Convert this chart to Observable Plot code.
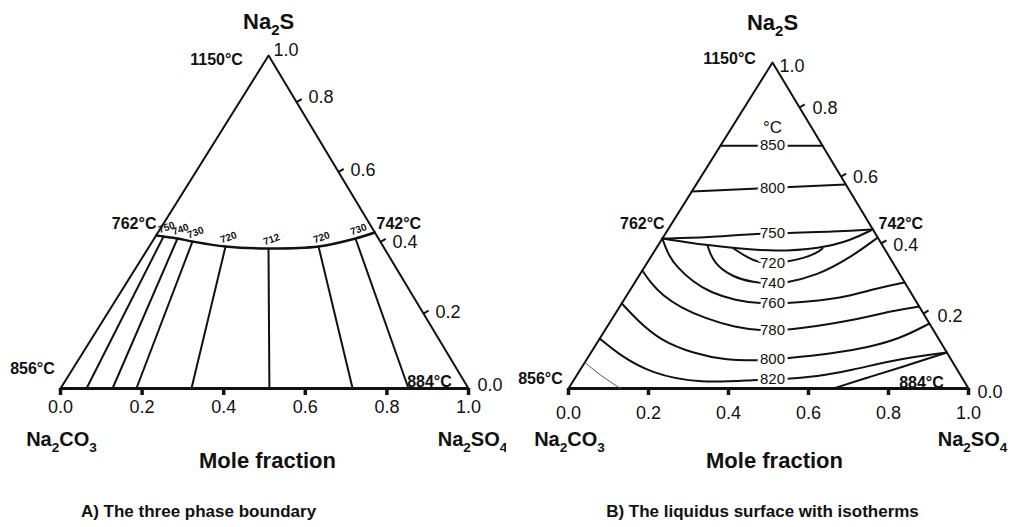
<!DOCTYPE html>
<html><head><meta charset="utf-8">
<script src="https://cdn.jsdelivr.net/npm/d3@7"></script>
<script src="https://cdn.jsdelivr.net/npm/@observablehq/plot@0.6"></script>
<style>
body{margin:0;background:#fff;}
#wrap{display:flex;width:1012px;height:527px;overflow:hidden;}
#wrap svg{overflow:visible;}
</style></head><body><div id="wrap"></div>
<script>
// ---------------- DATA (compositions as [Na2SO4 fraction, Na2S fraction]) ----------------
const baseTicks = [0, 0.2, 0.4, 0.6, 0.8, 1.0];
const edgeTickLabels = ["0.0", "0.2", "0.4", "0.6", "0.8", "1.0"];
const edgeTickNa2S_A = [0, 0.225, 0.44, 0.65, 0.86, 1.0];
const edgeTickNa2S_B = [0, 0.23, 0.445, 0.65, 0.862, 1.0];
const components = ["Na2CO3", "Na2S", "Na2SO4"];
const cornerComp = [[0, 0], [0, 1], [1, 0]];
const meltingLabels = ["856°C", "1150°C", "884°C"];
const eutecticLabels = ["762°C", "742°C"];
const eutecticA = [[0, 0.4595], [0.5315, 0.4685]];
const eutecticB = [[0, 0.46], [0.512, 0.488]];
const captions = ["A) The three phase boundary", "B) The liquidus surface with isotherms"];

// Panel A: tie lines from the three-phase boundary down to the base
const tieTempsA = [750, 740, 730, 720, 712, 720, 730];
const tieTopSO4A = [0.0197, 0.057, 0.0984, 0.187, 0.2954, 0.415, 0.4932];
const tieTopSA = [0.4565, 0.4505, 0.4414, 0.4264, 0.4204, 0.4264, 0.4505];
const tieBaseSO4A = [0.0637, 0.1275, 0.186, 0.321, 0.512, 0.716, 0.853];

// Panel B: liquidus isotherms
const isoTempsB = [850, 800, 750, 720, 740, 760, 780, 800, 820];
const isoPointsB = [
  [[0, 0.745], [0.255, 0.745]],
  [[0, 0.604], [0.374, 0.626]],
  [[0, 0.46], [0.1114, 0.463], [0.2325, 0.4755], [0.4344, 0.4816], [0.512, 0.488]],
  [[0.1935, 0.4294], [0.2426, 0.4018], [0.2779, 0.3865], [0.3145, 0.3834], [0.3379, 0.3865], [0.3841, 0.3988], [0.4097, 0.4172], [0.416, 0.4294]],
  [[0.1238, 0.4387], [0.167, 0.3834], [0.2388, 0.3405], [0.2966, 0.3252], [0.3457, 0.3221], [0.3707, 0.3221], [0.4457, 0.3466], [0.5001, 0.4018], [0.537, 0.463]],
  [[0, 0.46], [0.0419, 0.408], [0.0832, 0.3712], [0.1426, 0.3282], [0.2048, 0.2945], [0.2798, 0.27], [0.347, 0.2607], [0.4095, 0.2607], [0.4923, 0.27], [0.5452, 0.2791], [0.622, 0.3098], [0.6748, 0.3252]],
  [[0, 0.362], [0.0391, 0.3252], [0.0895, 0.2853], [0.1533, 0.2485], [0.233, 0.2147], [0.3221, 0.1871], [0.3893, 0.1779], [0.4518, 0.1779], [0.5842, 0.2025], [0.6905, 0.2393], [0.7485, 0.2515]],
  [[0, 0.261], [0.0661, 0.2086], [0.1549, 0.1472], [0.2577, 0.1074], [0.3537, 0.0859], [0.4287, 0.0859], [0.4956, 0.092], [0.6077, 0.1074], [0.6833, 0.1258], [0.7518, 0.1534], [0.8006, 0.1994]],
  [[0, 0.153], [0.0677, 0.1074], [0.1815, 0.046], [0.3222, 0.0153], [0.4584, 0.0276], [0.5209, 0.0276], [0.6037, 0.0368], [0.6768, 0.0552], [0.7831, 0.092], [0.8896, 0.1104]]
];
const boundaryB = [[0, 0.46], [0.1238, 0.4387], [0.211, 0.4294], [0.2982, 0.4202], [0.411, 0.4294], [0.4735, 0.454], [0.512, 0.488]];
const unlabeledB = [
  [[0.6625, 0], [0.7303, 0.0337], [0.7972, 0.0644], [0.8896, 0.1104]],
  [[0, 0.08], [0.0597, 0.0399], [0.13, 0]]
];

// ---------------- DRAWING ----------------
const FN = "'Liberation Sans Narrow','Arial Narrow','Liberation Sans',Arial,sans-serif";
const FB = "'Liberation Sans',Arial,sans-serif";
const K = 0.51; // horizontal position of the Na2S apex on the base scale
const X = (c, s) => c + K * s;

function panel(o) {
  const W = 506, H = 527;
  const px = o.right - o.left, py = o.base - o.top;
  const L = Math.hypot((1 - K) * px, py);
  const stubX = 6 * py / L / px, stubY = 6 * (1 - K) * px / L / py;
  const edge = o.edgeS.map((s, i) => ({s, label: edgeTickLabels[i], x: 1 - (1 - K) * s, i}));
  const marks = [];
  marks.push(Plot.line([{x: 0, y: 0}, {x: K, y: 1}, {x: 1, y: 0}], {x: "x", y: "y", stroke: "#111", strokeWidth: 2}));
  marks.push(Plot.ruleY([0], {x1: 0, x2: 1, stroke: "#111", strokeWidth: 3}));
  marks.push(Plot.ruleX(baseTicks, {x: d => d, y1: 0, y2: -7 / py, stroke: "#111", strokeWidth: 3.5}));
  marks.push(Plot.text(baseTicks, {x: d => d, y: 0, dy: o.baseLabelDy, text: d => d.toFixed(1), fontSize: 18, fontFamily: FN, fill: "#111"}));
  marks.push(Plot.link(edge.filter(d => d.s > 0 && d.s < 1), {x1: "x", y1: "s", x2: d => d.x + stubX, y2: d => d.s + stubY, stroke: "#111", strokeWidth: 2}));
  edge.forEach(d => {
    const off = o.edgeOff[d.i];
    marks.push(Plot.text([d], {x: "x", y: "s", text: "label", dx: off[0], dy: off[1], textAnchor: "start", fontSize: 18, fontFamily: FN, fill: "#111"}));
  });
  cornerComp.forEach(([c, s], i) => {
    const p = {x: X(c, s), y: s};
    if (i === 1) marks.push(Plot.text([p], {x: "x", y: "y", text: () => components[i], dy: o.na2sDy, fontSize: 22, fontWeight: "bold", fontFamily: FB, fill: "#111"}));
    else marks.push(Plot.text([p], {x: "x", y: "y", text: () => components[i], dx: i === 0 ? 1 : 4, dy: o.compDy, fontSize: 20, fontWeight: "bold", fontFamily: FB, fill: "#111"}));
    marks.push(Plot.text([p], {x: "x", y: "y", text: () => meltingLabels[i], dx: o.melt[i][0], dy: o.melt[i][1], fontSize: 16, fontWeight: "bold", fontFamily: FN, fill: "#111"}));
  });
  o.eut.forEach(([c, s], i) => {
    marks.push(Plot.text([{x: X(c, s), y: s}], {x: "x", y: "y", text: () => eutecticLabels[i], dx: o.eutOff[i][0], dy: o.eutOff[i][1], fontSize: 16, fontWeight: "bold", fontFamily: FN, fill: "#111"}));
  });
  marks.push(Plot.text(["Mole fraction"], {frameAnchor: "bottom", dx: o.moleDx, dy: 79, fontSize: 22, fontWeight: "bold", fontFamily: FB, fill: "#111"}));
  marks.push(Plot.text([o.caption], {frameAnchor: "bottom", dx: o.capDx, dy: 128, fontSize: 17, fontWeight: "bold", fontFamily: FB, fill: "#111"}));
  marks.push(...o.extra);
  return Plot.plot({
    width: W, height: H,
    marginLeft: o.left, marginRight: W - o.right, marginTop: o.top, marginBottom: H - o.base,
    x: {domain: [0, 1], axis: null}, y: {domain: [0, 1], axis: null},
    style: {background: "white", overflow: "visible"},
    marks
  });
}

// Panel A extra marks
const tiesA = tieTempsA.map((t, i) => ({t, x1: X(tieTopSO4A[i], tieTopSA[i]), y1: tieTopSA[i], x2: tieBaseSO4A[i], y2: 0}));
const boundaryA = [eutecticA[0], ...tieTopSO4A.map((c, i) => [c, tieTopSA[i]]), eutecticA[1]].map(([c, s]) => ({x: X(c, s), y: s}));
const extraA = [
  Plot.line(boundaryA, {x: "x", y: "y", curve: "catmull-rom", stroke: "#111", strokeWidth: 2.5}),
  Plot.link(tiesA, {x1: "x1", y1: "y1", x2: "x2", y2: "y2", stroke: "#111", strokeWidth: 2}),
  Plot.text(tiesA, {x: "x1", y: "y1", text: d => String(d.t), dx: 3, dy: -9, rotate: -20, fontSize: 10, fontWeight: "bold", fontFamily: FN, fill: "#111"})
];

// Panel B extra marks
function yAt(pts, xt) {
  const q = pts.map(([c, s]) => [X(c, s), s]);
  for (let i = 0; i < q.length - 1; i++) {
    const [x0, y0] = q[i], [x1, y1] = q[i + 1];
    if ((x0 - xt) * (x1 - xt) <= 0 && x0 !== x1) return y0 + (y1 - y0) * (xt - x0) / (x1 - x0);
  }
  return q[0][1];
}
const isoFlat = [];
isoPointsB.forEach((pts, i) => pts.forEach(([c, s]) => isoFlat.push({id: "i" + i, x: X(c, s), y: s})));
boundaryB.forEach(([c, s]) => isoFlat.push({id: "b", x: X(c, s), y: s}));
const thinFlat = [];
unlabeledB.forEach((pts, i) => pts.forEach(([c, s]) => thinFlat.push({id: "u" + i, x: X(c, s), y: s})));
const isoLabels = isoTempsB.map((t, i) => ({t, x: K, y: yAt(isoPointsB[i], K)}));
const extraB = [
  Plot.line(isoFlat, {x: "x", y: "y", z: "id", curve: "basis", stroke: "#111", strokeWidth: 2}),
  Plot.line(thinFlat.filter(d => d.id === "u0"), {x: "x", y: "y", curve: "basis", stroke: "#111", strokeWidth: 2}),
  Plot.line(thinFlat.filter(d => d.id === "u1"), {x: "x", y: "y", curve: "basis", stroke: "#555", strokeWidth: 1}),
  Plot.text(isoLabels, {x: "x", y: "y", text: d => String(d.t), fontSize: 15, fontFamily: FN, fill: "#111", stroke: "white", strokeWidth: 6, paintOrder: "stroke"}),
  Plot.text(isoLabels.slice(0, 1), {x: "x", y: "y", text: () => "°C", dy: -18, fontSize: 17, fontFamily: FN, fill: "#111"})
];

const A = panel({
  left: 60, right: 468, top: 55, base: 388, baseLabelDy: 19, edgeS: edgeTickNa2S_A,
  edgeOff: [[9, -3], [12, -1], [12, 0], [12, -2], [12, -5], [5, -5]],
  na2sDy: -34, compDy: 51, moleDx: 3, capDx: -66,
  melt: [[-28, -20], [-52, 4], [-39, -7]], eut: eutecticA, eutOff: [[-22, -12], [24, -9]],
  caption: captions[0], extra: extraA
});
const B = panel({
  left: 62, right: 462, top: 62, base: 388, baseLabelDy: 25, edgeS: edgeTickNa2S_B,
  edgeOff: [[9, 4], [14, 3], [12, 2], [12, 1], [13, 1], [7, 4]],
  na2sDy: -40, compDy: 51, moleDx: 6, capDx: -6,
  melt: [[-28, -10], [-43, -4], [-47, -6]], eut: eutecticB, eutOff: [[-20, -15], [28, -6]],
  caption: captions[1], extra: extraB
});
const wrap = document.getElementById("wrap");
wrap.appendChild(A);
wrap.appendChild(B);

// chemical formulas: render digits as subscripts
function subscriptify(svg) {
  svg.querySelectorAll("text").forEach(t => {
    const s = t.textContent;
    if (!/^Na\d/.test(s)) return;
    const fs = parseFloat(getComputedStyle(t).fontSize) || 20;
    while (t.firstChild) t.removeChild(t.firstChild);
    let shifted = false;
    s.match(/\d+|\D+/g).forEach(p => {
      const ts = document.createElementNS("http://www.w3.org/2000/svg", "tspan");
      ts.textContent = p;
      if (/\d/.test(p)) { ts.setAttribute("font-size", (fs * 0.68) + "px"); ts.setAttribute("dy", (fs * 0.3) + "px"); shifted = true; }
      else if (shifted) { ts.setAttribute("dy", (-fs * 0.3) + "px"); shifted = false; }
      t.appendChild(ts);
    });
  });
}
subscriptify(A); subscriptify(B);
</script></body></html>
